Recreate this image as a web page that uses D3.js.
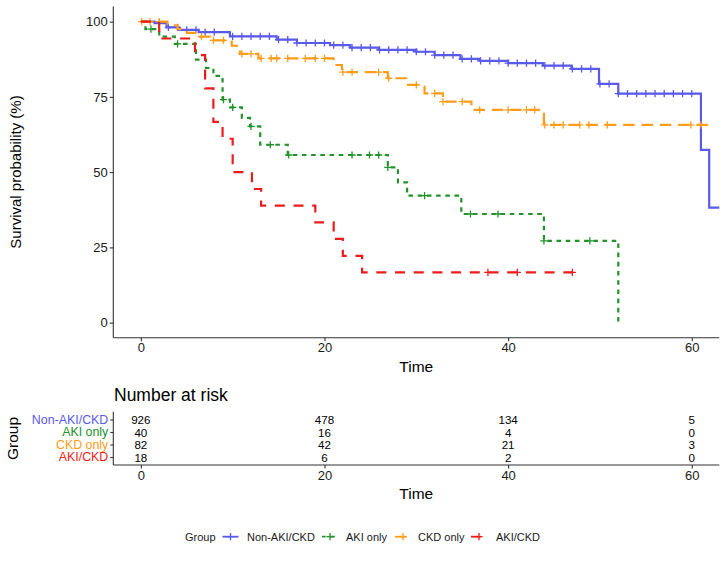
<!DOCTYPE html>
<html>
<head>
<meta charset="utf-8">
<script src="https://cdn.jsdelivr.net/npm/d3@7"></script>
<style>
  html, body { margin: 0; padding: 0; background: #fff; }
  svg { display: block; font-family: "Liberation Sans", Arial, sans-serif; }
</style>
</head>
<body>
<svg id="chart" width="726" height="565"></svg>
<script>
// ---------------- DATA ----------------
const groups = ["Non-AKI/CKD", "AKI only", "CKD only", "AKI/CKD"];
const groupColors = ["#5A5AEA", "#22922A", "#FF9C1A", "#EE1B1B"];
const groupDash = [null, "4.6,4.6", "11.5,6.8", "10,8.7"];

// Kaplan-Meier steps: [time, survival %]
const stepsNonAKICKD = [[0,100],[1.5,99.5],[2.8,98.1],[4.1,97.3],[6.3,96.5],[9.7,95.1],[14.8,94.0],[17,92.9],[20.6,92.2],[22.8,91.4],[25.9,90.6],[30,90.0],[32,88.9],[34.8,87.6],[36.9,87.0],[40,86.2],[43.8,85.4],[46.9,84.3],[49.9,79.3],[52,76.1],[61,57.4],[61.9,38.2]];
const stepsAKIonly = [[0,100],[0.5,97.5],[2,95.0],[3.7,92.6],[6.0,87.4],[7.1,84.6],[7.9,82.0],[8.9,74.1],[9.7,71.5],[11,68.0],[11.9,65.2],[13,59.1],[16,55.7],[26.9,51.6],[28,46.6],[29,42.2],[34.9,36.1],[43.9,27.2],[52,0]];
const stepsCKDonly = [[0,100],[2.9,98.8],[4,97.5],[5,96.3],[6,95.0],[7.5,93.8],[9.9,92.0],[10.8,89.3],[12.8,87.8],[21,85.6],[21.9,83.2],[26.9,81.2],[28.9,79.0],[30.9,76.2],[32.9,73.4],[36,70.7],[43.9,65.7]];
const stepsAKICKD = [[0,100],[2,94.4],[5.9,88.9],[7.0,77.8],[7.9,66.7],[8.9,61.1],[10,50.0],[12.1,44.4],[13.1,38.9],[19,33.3],[21,27.8],[22,22.2],[24.1,16.7]];

// last follow-up time of each curve
const endTimes = [63.5, 52, 62.5, 47];

// censoring times ("+")
const censNonAKICKD = [2,3,4,5,6,7,8,10,11,12,13,14,15,16,17,18,19,20,21,22,23,24,25,26,27,28,29,30,31,32,33,34,35,36,37,38,39,40,41,42,43,44,45,46,47,48,49,50,51,52,53,54,55,56,57,58,59,60];
const censAKIonly = [1.1,4.0,9.0,10.0,12.0,14.1,16.1,23,24.9,25.9,26.9,30.9,35.9,38.9,43.9,48.9];
const censCKDonly = [0.1,1,2,6.6,7.9,9,11,12,13.1,14.2,14.8,16,17.9,19,20,22,23,25.9,27,30,32,32.9,35,36.9,40,42,42.9,44,45,46,47.8,48.8,50.8,59.9,61];
const censAKICKD = [37.8,41,47];

// Number at risk table
const riskTimes = [0, 20, 40, 60];
const riskNonAKICKD = [926, 478, 134, 5];
const riskAKIonly = [40, 16, 4, 0];
const riskCKDonly = [82, 42, 21, 3];
const riskAKICKD = [18, 6, 2, 0];

const xTicks = [0, 20, 40, 60];
const yTicks = [0, 25, 50, 75, 100];

// ---------------- DRAWING ----------------
const stepsAll = [stepsNonAKICKD, stepsAKIonly, stepsCKDonly, stepsAKICKD];
const censAll = [censNonAKICKD, censAKIonly, censCKDonly, censAKICKD];
const riskAll = [riskNonAKICKD, riskAKIonly, riskCKDonly, riskAKICKD];

const svg = d3.select("#chart");
const axisColor = "#333333";
const PL = 113.3, PR = 719.3, PT = 6.6, PB = 337.7;

const x = d3.scaleLinear().domain([-3.0, 63.0]).range([PL, PR]);
const y = d3.scaleLinear().domain([-5, 105]).range([PB, PT]);

svg.append("defs").append("clipPath").attr("id", "clip")
  .append("rect").attr("x", PL).attr("y", 0).attr("width", PR - PL).attr("height", PB);

// axes (main)
const xAxis = svg.append("g").attr("transform", `translate(0,${PB})`)
  .call(d3.axisBottom(x).tickValues(xTicks).tickSize(3.5).tickSizeOuter(0).tickPadding(2));
const yAxis = svg.append("g").attr("transform", `translate(${PL},0)`)
  .call(d3.axisLeft(y).tickValues(yTicks).tickSize(3.5).tickSizeOuter(0).tickPadding(2));
[xAxis, yAxis].forEach(a => {
  a.select(".domain").attr("stroke", axisColor).attr("stroke-width", 1.1);
  a.selectAll(".tick line").attr("stroke", axisColor).attr("stroke-width", 1.1);
  a.selectAll(".tick text").attr("fill", "#1a1a1a").style("font-size", "13px")
    .style("font-family", '"Liberation Sans", Arial, sans-serif');
});
yAxis.select(".domain").attr("d", `M0,${PT}V${PB}`);
xAxis.select(".domain").attr("d", `M${PL},0H${PR}`);

// curves
const line = d3.line().x(d => x(d[0])).y(d => y(d[1])).curve(d3.curveStepAfter);
const plotG = svg.append("g").attr("clip-path", "url(#clip)");

function survAt(steps, t) {
  let s = steps[0][1];
  for (const st of steps) { if (st[0] <= t) s = st[1]; }
  return s;
}

[0, 1, 2, 3].forEach(i => {
  const st = stepsAll[i];
  const pts = st.concat([[endTimes[i], st[st.length - 1][1]]]);
  plotG.append("path").datum(pts)
    .attr("d", line)
    .attr("fill", "none")
    .attr("stroke", groupColors[i])
    .attr("stroke-width", 2.2)
    .attr("stroke-dasharray", groupDash[i])
    .attr("stroke-linejoin", "miter");
  plotG.selectAll(null).data(censAll[i]).enter().append("path")
    .attr("transform", t => `translate(${x(t)},${y(survAt(st, t))})`)
    .attr("d", "M-3.6,0H3.6M0,-3.6V3.6")
    .attr("stroke", groupColors[i])
    .attr("stroke-width", 1.3)
    .attr("fill", "none");
});

// axis titles
svg.append("text").attr("x", (PL + PR) / 2).attr("y", 366.7)
  .attr("text-anchor", "middle").attr("dominant-baseline", "central")
  .style("font-size", "15.5px").attr("fill", "#000").text("Time");
svg.append("text").attr("transform", "translate(15,172) rotate(-90)")
  .attr("text-anchor", "middle").attr("dominant-baseline", "central")
  .style("font-size", "15px").attr("fill", "#000").text("Survival probability (%)");

// ---------------- RISK TABLE ----------------
const TT = 411.7, TB = 465;
const rowY = d3.scalePoint().domain(groups).range([419.5, 457]);

svg.append("text").attr("x", 114).attr("y", 395)
  .attr("dominant-baseline", "central")
  .style("font-size", "17.5px").attr("fill", "#000").text("Number at risk");

const tAxis = svg.append("g").attr("transform", `translate(0,${TB})`)
  .call(d3.axisBottom(x).tickValues(xTicks).tickSize(3.5).tickSizeOuter(0).tickPadding(2));
tAxis.select(".domain").attr("d", `M${PL},0H${PR}`).attr("stroke", axisColor).attr("stroke-width", 1.1);
tAxis.selectAll(".tick line").attr("stroke", axisColor).attr("stroke-width", 1.1);
tAxis.selectAll(".tick text").attr("fill", "#1a1a1a").style("font-size", "13px")
  .style("font-family", '"Liberation Sans", Arial, sans-serif');

const gAxis = svg.append("g").attr("transform", `translate(${PL},0)`)
  .call(d3.axisLeft(rowY).tickSize(3).tickSizeOuter(0).tickPadding(2));
gAxis.select(".domain").attr("d", `M0,${TT}V${TB}`).attr("stroke", axisColor).attr("stroke-width", 1.1);
gAxis.selectAll(".tick line").attr("stroke", axisColor).attr("stroke-width", 1.1);
gAxis.selectAll(".tick text")
  .style("font-size", "12.4px")
  .style("font-family", '"Liberation Sans", Arial, sans-serif')
  .attr("fill", d => groupColors[groups.indexOf(d)]);

groups.forEach((g, i) => {
  svg.selectAll(null).data(riskTimes).enter().append("text")
    .attr("x", t => x(t))
    .attr("y", rowY(g))
    .attr("text-anchor", "middle")
    .attr("dominant-baseline", "central")
    .style("font-size", "11.6px")
    .attr("fill", "#000")
    .text((t, j) => riskAll[i][j]);
});

svg.append("text").attr("x", (PL + PR) / 2).attr("y", 493)
  .attr("text-anchor", "middle").attr("dominant-baseline", "central")
  .style("font-size", "15.5px").attr("fill", "#000").text("Time");
svg.append("text").attr("transform", "translate(12.5,438.5) rotate(-90)")
  .attr("text-anchor", "middle").attr("dominant-baseline", "central")
  .style("font-size", "15.5px").attr("fill", "#000").text("Group");

// ---------------- LEGEND ----------------
const LY = 536.7;
svg.append("text").attr("x", 185).attr("y", LY).attr("dominant-baseline", "central")
  .style("font-size", "11px").attr("fill", "#1a1a1a").text("Group");
const keyX = [230.5, 330, 403, 479];
const labX = [247, 346, 418, 496];
groups.forEach((g, i) => {
  const k = svg.append("g").attr("transform", `translate(${keyX[i]},${LY})`);
  k.append("line").attr("x1", -8).attr("x2", 8).attr("y1", 0).attr("y2", 0)
    .attr("stroke", groupColors[i]).attr("stroke-width", 1.8)
    .attr("stroke-dasharray", groupDash[i]).attr("stroke-dashoffset", i === 1 ? 1 : 0);
  k.append("path").attr("d", "M-3.6,0H3.6M0,-3.6V3.6")
    .attr("stroke", groupColors[i]).attr("stroke-width", 1.3);
  svg.append("text").attr("x", labX[i]).attr("y", LY).attr("dominant-baseline", "central")
    .style("font-size", "11px").attr("fill", "#1a1a1a").text(g);
});
</script>
</body>
</html>
